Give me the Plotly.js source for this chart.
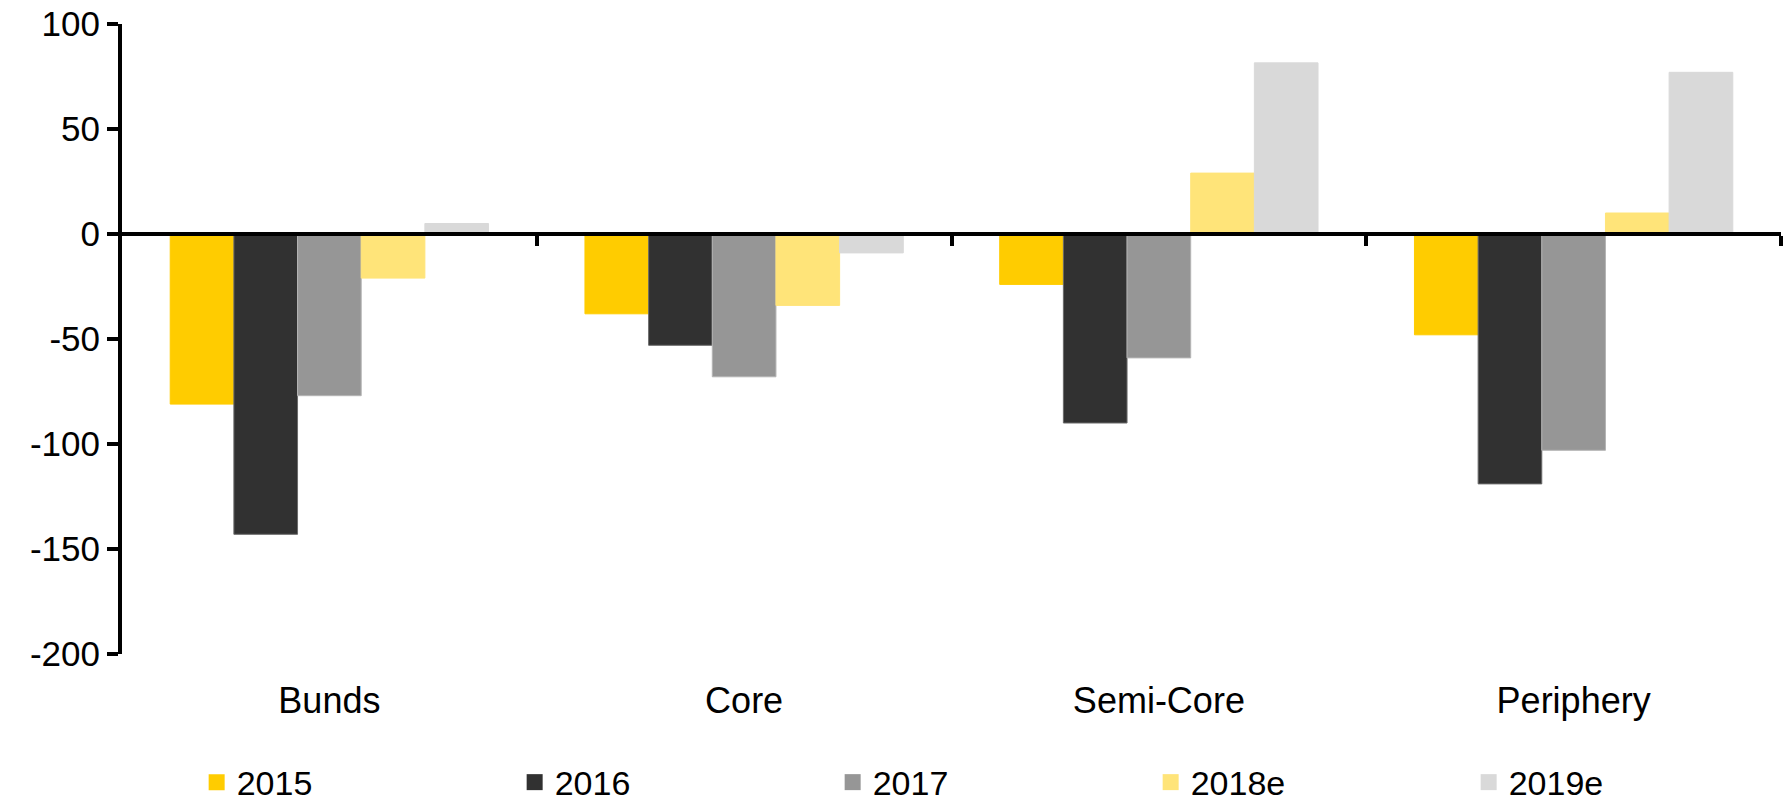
<!DOCTYPE html>
<html>
<head>
<meta charset="utf-8">
<script src="https://cdn.plot.ly/plotly-3.0.1.min.js"></script>
<style>
  html, body { margin: 0; padding: 0; background: #ffffff; }
  #chart { width: 1787px; height: 805px; }
</style>
</head>
<body>
<div id="chart"></div>
<script>
const categories = ["Bunds", "Core", "Semi-Core", "Periphery"];
const seriesNames = ["2015", "2016", "2017", "2018e", "2019e"];
const v2015  = [-81, -38, -24, -48];
const v2016  = [-143, -53, -90, -119];
const v2017  = [-77, -68, -59, -103];
const v2018e = [-21, -34, 29, 10];
const v2019e = [5, -9, 81.5, 77];
const yTicks = [-200, -150, -100, -50, 0, 50, 100];

const seriesValues = [v2015, v2016, v2017, v2018e, v2019e];
const fillColors = ["#FFCC00", "#313131", "#969696", "#FFE479", "#D9D9D9"];
const edgeColors = ["#FFCC00", "#6a6a6a", "#b4b4b4", "#FFE479", "#D9D9D9"];

const FONT = "Liberation Sans, Arial, Helvetica, sans-serif";

const traces = seriesNames.map((name, i) => ({
  type: "bar",
  name: name,
  legendgroup: name,
  showlegend: false,
  x: categories,
  y: seriesValues[i],
  marker: { color: fillColors[i], line: { color: edgeColors[i], width: 1 } },
  hoverinfo: "x+y+name"
}));

// legend entries with larger square swatches
seriesNames.forEach((name, i) => {
  traces.push({
    type: "scatter", mode: "markers", name: name, legendgroup: name,
    x: [null], y: [null], showlegend: true, hoverinfo: "skip",
    marker: { symbol: "square", size: 20, color: fillColors[i], line: { width: 0 } }
  });
});

// dummy trace so the zero-line category axis is drawn
traces.push({
  type: "scatter", mode: "markers", x: [null], y: [null],
  xaxis: "x2", yaxis: "y", showlegend: false, hoverinfo: "skip"
});

const boundaryTicks = categories.map((c, i) => i + 0.5);

const layout = {
  width: 1787,
  height: 805,
  margin: { l: 122, r: 6, t: 24, b: 151, pad: 0, autoexpand: false },
  paper_bgcolor: "#ffffff",
  plot_bgcolor: "#ffffff",
  font: { family: FONT, color: "#000000" },
  barmode: "group",
  bargap: 0.2325,
  bargroupgap: 0,
  showlegend: true,
  legend: {
    orientation: "h",
    x: 0.045, xanchor: "left",
    y: -0.158, yanchor: "top",
    font: { family: FONT, size: 34, color: "#000000" },
    entrywidth: 273,
    entrywidthmode: "pixels",
    traceorder: "normal",
    itemsizing: "trace",
    tracegroupgap: 0,
    bgcolor: "rgba(0,0,0,0)"
  },
  xaxis: {
    type: "category",
    categoryorder: "array",
    categoryarray: categories,
    showline: false,
    showgrid: false,
    zeroline: false,
    ticks: "",
    ticklabelstandoff: 22,
    tickfont: { family: FONT, size: 36, color: "#000000" },
    fixedrange: true
  },
  xaxis2: {
    overlaying: "x",
    anchor: "free",
    position: 2 / 3,
    range: [-0.5, categories.length - 0.5],
    showline: true,
    linecolor: "#000000",
    linewidth: 4,
    showgrid: false,
    zeroline: false,
    ticks: "outside",
    tickmode: "array",
    tickvals: boundaryTicks,
    ticktext: boundaryTicks.map(() => ""),
    ticklen: 10,
    tickwidth: 4,
    tickcolor: "#000000",
    showticklabels: false,
    fixedrange: true
  },
  yaxis: {
    range: [-200, 100],
    tickmode: "array",
    tickvals: yTicks,
    ticktext: yTicks.map(String),
    showline: true,
    linecolor: "#000000",
    linewidth: 4,
    ticks: "outside",
    ticklen: 11,
    tickwidth: 4,
    tickcolor: "#000000",
    showgrid: false,
    zeroline: false,
    tickfont: { family: FONT, size: 35, color: "#000000" },
    fixedrange: true
  }
};

Plotly.newPlot("chart", traces, layout, { displayModeBar: false, staticPlot: true });
</script>
</body>
</html>
